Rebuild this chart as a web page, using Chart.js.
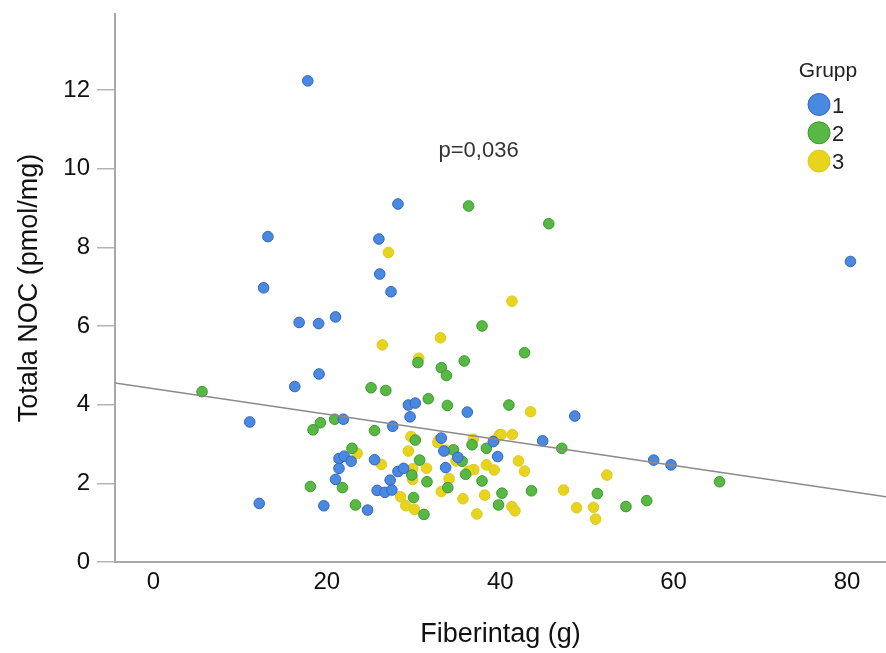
<!DOCTYPE html>
<html lang="sv">
<head>
<meta charset="utf-8">
<title>Totala NOC mot fiberintag</title>
<script src="https://cdn.jsdelivr.net/npm/chart.js@4/dist/chart.umd.min.js"></script>
<style>
  html, body { margin: 0; padding: 0; background: #fff; }
  #chart { display: block; }
</style>
</head>
<body>
<canvas id="chart" width="886" height="653"></canvas>
<script>
// === DATA ===
const groupLabels = ["1", "2", "3"];

// Grupp 1
const g1Fiber = [17.8, 13.2, 26.0, 28.2, 26.1, 12.7, 27.4, 16.8, 19.05, 21.0, 19.1, 16.3, 11.1, 21.9, 27.6,
  29.4, 30.2, 29.6, 36.2, 33.2, 21.4, 22.0, 22.8, 21.4, 21.0, 25.5, 28.2, 28.85, 27.3, 25.8, 26.7, 27.5,
  12.2, 19.65, 24.7, 33.5, 35.1, 33.7, 39.2, 39.7, 44.9, 48.6, 57.7, 59.7, 80.4];
const g1Noc = [12.23, 8.27, 8.21, 9.10, 7.32, 6.97, 6.87, 6.09, 6.06, 6.23, 4.78, 4.46, 3.56, 3.63, 3.45,
  3.99, 4.04, 3.69, 3.81, 3.15, 2.63, 2.69, 2.56, 2.38, 2.10, 2.60, 2.30, 2.38, 2.08, 1.82, 1.77, 1.83,
  1.49, 1.43, 1.32, 2.82, 2.66, 2.40, 3.06, 2.68, 3.08, 3.71, 2.59, 2.47, 7.64];

// Grupp 2
const g2Fiber = [36.35, 45.6, 37.9, 42.8, 30.5, 35.85, 33.2, 33.8, 25.1, 26.8, 5.6, 20.9, 19.25, 18.4, 25.5,
  31.7, 33.9, 41.0, 22.9, 30.2, 34.6, 35.6, 36.75, 38.4, 47.1, 30.7, 29.8, 36.0, 31.55, 37.9, 33.95,
  18.1, 21.8, 30.0, 31.2, 23.3, 40.2, 39.8, 43.6, 51.2, 54.5, 56.9, 65.3];
const g2Noc = [9.05, 8.60, 6.00, 5.32, 5.07, 5.11, 4.94, 4.74, 4.43, 4.36, 4.33, 3.63, 3.54, 3.36, 3.34,
  4.15, 3.98, 3.99, 2.89, 3.10, 2.85, 2.56, 2.98, 2.89, 2.89, 2.59, 2.21, 2.23, 2.04, 2.06, 1.89,
  1.92, 1.89, 1.64, 1.21, 1.45, 1.75, 1.45, 1.81, 1.74, 1.41, 1.56, 2.04];

// Grupp 3
const g3Fiber = [27.1, 41.35, 33.1, 26.4, 30.6, 23.5, 26.3, 28.5, 29.7, 32.9, 32.8, 29.4, 33.8, 34.9, 36.9,
  36.95, 36.35, 39.4, 39.9, 38.4, 39.3, 29.9, 31.5, 29.9, 34.1, 33.2, 29.1, 30.1, 35.7, 38.2, 37.3,
  43.5, 40.1, 41.4, 42.1, 42.8, 52.3, 47.3, 41.35, 41.7, 48.8, 50.75, 51.0];
const g3Noc = [7.87, 6.63, 5.70, 5.52, 5.18, 2.76, 2.48, 1.66, 3.19, 3.10, 3.04, 2.82, 2.84, 2.57, 3.12,
  2.35, 2.31, 3.10, 3.23, 2.47, 2.34, 2.37, 2.38, 2.10, 2.12, 1.79, 1.43, 1.34, 1.61, 1.70, 1.22,
  3.82, 3.24, 3.24, 2.57, 2.31, 2.21, 1.83, 1.41, 1.30, 1.38, 1.39, 1.09];

// Regressionslinje (ändpunkter vid axelns gränser)
const fitX = [-4.44, 84.5];
const fitY = [4.55, 1.66];

// Axlar
const xTicks = [0, 20, 40, 60, 80];
const yTicks = [0, 2, 4, 6, 8, 10, 12];
const pText = "p=0,036";

// === FÄRGER ===
const fills = ["#4a89e0", "#58b843", "#e8d41b"];
const borders = ["#3463c2", "#3a9a2c", "#dcc82a"];

const font = "'Liberation Sans', Arial, sans-serif";

function toPoints(xs, ys) {
  return xs.map((x, i) => ({ x: x, y: ys[i] }));
}

// === ANNOTERINGAR: p-värde + legend ===
const extras = {
  id: "extras",
  afterDraw(chart) {
    const ctx = chart.ctx;
    const xs = chart.scales.x, ys = chart.scales.y;
    ctx.save();
    ctx.fillStyle = "#333";
    ctx.font = "22px " + font;
    ctx.textAlign = "center";
    ctx.textBaseline = "middle";
    ctx.fillText(pText, xs.getPixelForValue(37.5), ys.getPixelForValue(10.45));

    // legend
    ctx.fillStyle = "#222";
    ctx.font = "21px " + font;
    ctx.fillText("Grupp", 828, 71);
    groupLabels.forEach((lab, i) => {
      const cy = 104.5 + i * 28.3;
      ctx.beginPath();
      ctx.arc(819, cy, 11, 0, Math.PI * 2);
      ctx.fillStyle = fills[i];
      ctx.fill();
      ctx.lineWidth = 1;
      ctx.strokeStyle = borders[i];
      ctx.stroke();
      ctx.fillStyle = "#222";
      ctx.textAlign = "left";
      ctx.font = "22px " + font;
      ctx.fillText(lab, 832, cy + 2);
    });
    ctx.restore();
  }
};

const groups = [[g1Fiber, g1Noc], [g2Fiber, g2Noc], [g3Fiber, g3Noc]];

const datasets = groups.map((g, i) => ({
  type: "scatter",
  label: groupLabels[i],
  data: toPoints(g[0], g[1]),
  backgroundColor: fills[i],
  borderColor: borders[i],
  borderWidth: 1,
  pointRadius: 5.3,
  pointHoverRadius: 5.3,
  order: 2
}));

datasets.push({
  type: "line",
  label: "fit",
  data: toPoints(fitX, fitY),
  borderColor: "#8a8a8a",
  borderWidth: 1.5,
  pointRadius: 0,
  fill: false,
  order: 1
});

new Chart(document.getElementById("chart"), {
  data: { datasets },
  options: {
    responsive: false,
    devicePixelRatio: 1,
    animation: false,
    events: [],
    layout: { autoPadding: false, padding: { top: 14, left: 0, right: 0, bottom: 0 } },
    plugins: { legend: { display: false }, tooltip: { enabled: false } },
    scales: {
      x: {
        type: "linear",
        min: fitX[0],
        max: fitX[1],
        afterBuildTicks: s => { s.ticks = xTicks.map(v => ({ value: v })); },
        afterFit: s => { s.height = 91; s.paddingLeft = 0; s.paddingRight = 0; },
        grid: { display: false, drawTicks: false },
        border: { display: true, color: "#a8a8a8", width: 2 },
        ticks: { color: "#111", font: { family: font, size: 24 }, padding: 6, maxRotation: 0 },
        title: {
          display: true, text: "Fiberintag (g)", color: "#111",
          font: { family: font, size: 27 }, padding: { top: 0, bottom: 2 }
        }
      },
      y: {
        type: "linear",
        min: 0,
        max: 13.93,
        afterBuildTicks: s => { s.ticks = yTicks.map(v => ({ value: v })); },
        afterFit: s => { s.width = 115; s.paddingTop = 0; s.paddingBottom = 0; },
        grid: { drawOnChartArea: false, drawTicks: true, tickLength: 18, color: "#b4b4b4", lineWidth: 1.5 },
        border: { display: true, color: "#a8a8a8", width: 2 },
        ticks: { color: "#111", font: { family: font, size: 24 }, padding: 7 },
        title: {
          display: true, text: "Totala NOC (pmol/mg)", color: "#111",
          font: { family: font, size: 27 }, padding: { top: 13, bottom: 0 }
        }
      }
    }
  },
  plugins: [extras]
});
</script>
</body>
</html>
